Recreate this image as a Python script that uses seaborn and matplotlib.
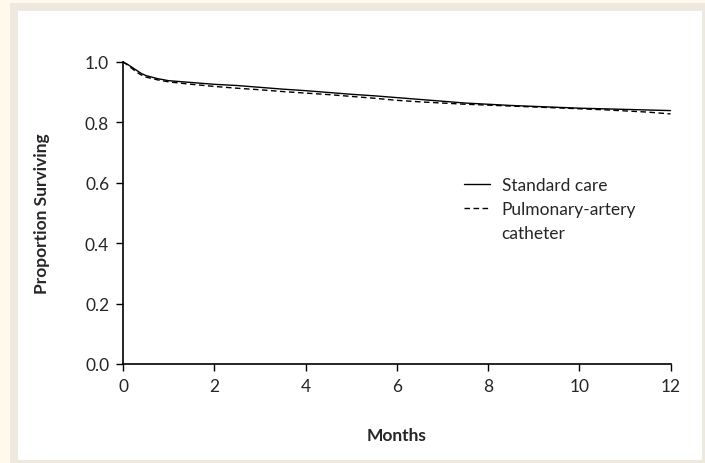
import pandas as pd
import matplotlib
matplotlib.use("Agg")
import matplotlib.pyplot as plt
import seaborn as sns
from matplotlib.patches import Rectangle
from matplotlib.lines import Line2D

sns.set_style("ticks")
plt.rcParams['font.family'] = ['Lato', 'DejaVu Sans']

# 生存曲线数据
months = [0, 0.1, 0.2, 0.3, 0.4, 0.5, 0.75, 1.0, 1.5, 2.0, 2.5, 3.0, 3.5, 4.0, 4.5,
          5.0, 5.5, 6.0, 6.5, 7.0, 7.5, 8.0, 8.5, 9.0, 9.5, 10.0, 10.5, 11.0, 11.5, 12.0]
standard_care = [1.0, 0.992, 0.982, 0.972, 0.962, 0.955, 0.945, 0.938, 0.932, 0.926,
                 0.922, 0.916, 0.910, 0.905, 0.899, 0.893, 0.888, 0.882, 0.876, 0.870,
                 0.864, 0.860, 0.856, 0.853, 0.850, 0.847, 0.845, 0.843, 0.841, 0.839]
pa_catheter = [1.0, 0.990, 0.978, 0.966, 0.957, 0.950, 0.941, 0.934, 0.926, 0.919,
               0.913, 0.908, 0.902, 0.897, 0.892, 0.886, 0.880, 0.873, 0.868, 0.864,
               0.860, 0.857, 0.854, 0.851, 0.848, 0.845, 0.842, 0.838, 0.834, 0.828]
x_ticks = [0, 2, 4, 6, 8, 10, 12]
y_ticks = [0.0, 0.2, 0.4, 0.6, 0.8, 1.0]

df = pd.DataFrame({'Months': months, 'Standard care': standard_care,
                   'Pulmonary-artery catheter': pa_catheter})

fig = plt.figure(figsize=(7.05, 4.64), dpi=100)
fig.patch.set_facecolor('#fef9ea')
# 背景框
fig.patches.append(Rectangle((10 / 705, 0), 695 / 705, 460 / 464, transform=fig.transFigure,
                             facecolor='#eee9df', edgecolor='none', zorder=-2))
fig.patches.append(Rectangle((18 / 705, 3 / 464), 684 / 705, 449 / 464, transform=fig.transFigure,
                             facecolor='white', edgecolor='none', zorder=-1))

ax = fig.add_axes([0.1745, 0.2134, 0.7766, 0.6509])
ax.set_facecolor('none')
ax.set_zorder(1)

sns.lineplot(data=df, x='Months', y='Standard care', ax=ax, color='black',
             linewidth=1.0, clip_on=False)
sns.lineplot(data=df, x='Months', y='Pulmonary-artery catheter', ax=ax, color='black',
             linewidth=1.0, linestyle=(0, (4, 2.5)), clip_on=False)

ax.set_xlim(0, 12)
ax.set_ylim(0, 1)
ax.set_xticks(x_ticks)
ax.set_yticks(y_ticks)
ax.set_yticklabels([f'{v:.1f}' for v in y_ticks])
ax.tick_params(axis='both', labelsize=12.5, length=5, width=1, pad=5, color='black')
sns.despine(ax=ax)
for s in ['left', 'bottom']:
    ax.spines[s].set_linewidth(1.2)
    ax.spines[s].set_color('black')

ax.set_xlabel('Months', fontsize=12.5, fontweight='bold', labelpad=24)
ax.set_ylabel('Proportion Surviving', fontsize=12.5, fontweight='bold', labelpad=25)

# 图例：第二条标签分两行，第二行用空白句柄
lines = ax.get_lines()
handles = [lines[0], lines[1], Line2D([], [], color='none')]
labels = ['Standard care', 'Pulmonary-artery', 'catheter']
ax.legend(handles, labels, loc='upper left', bbox_to_anchor=(0.595, 0.672), frameon=False,
          fontsize=12.5, handlelength=1.45, handletextpad=0.7, labelspacing=0.48)

fig.savefig('out.png', dpi=100, facecolor=fig.get_facecolor())
